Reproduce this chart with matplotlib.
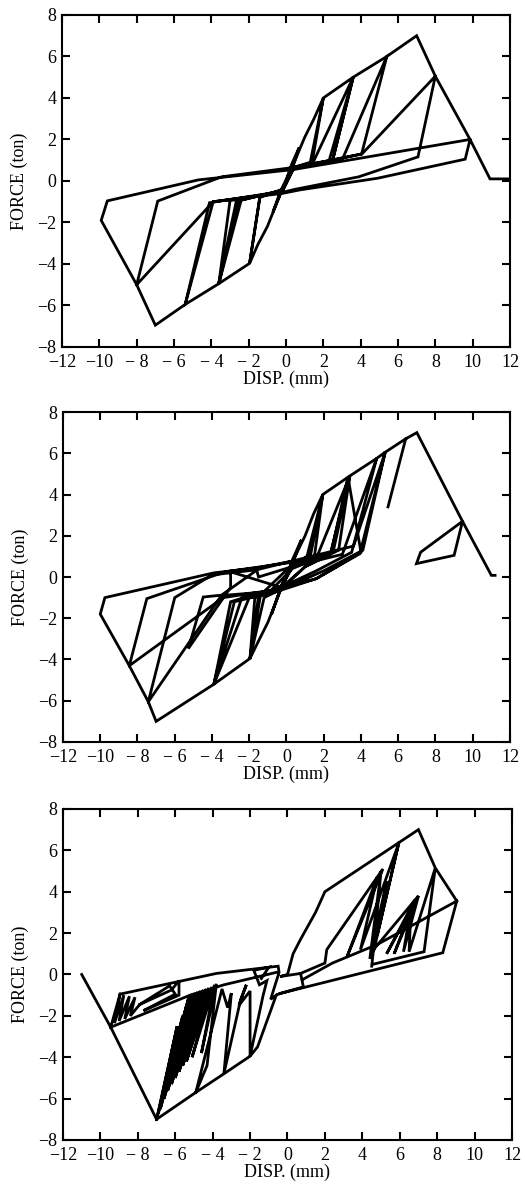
import numpy as np
import matplotlib
matplotlib.use("Agg")
import matplotlib.pyplot as plt

nan = np.nan

# hysteresis paths, (disp mm, force ton); (nan, nan) breaks a line
path1 = [
    (0, 0), (0.3, 0.8), (0.7, 1.6), (0.3, 0.5), (-0.2, -0.4), (-0.7, -1.5), (-0.3, -0.5), (0.3, 0.6),
    (1.0, 2.1), (1.5, 3.0), (2.0, 4.0),
    (1.3, 0.9), (0.4, 0.65), (-0.2, -0.4), (-1.0, -2.2), (-1.5, -3.05), (-1.95, -3.97),
    (-1.4, -0.8), (-0.2, -0.4), (0.4, 0.6), (1.4, 0.9), (2.0, 4.0), (3.6, 5.0),
    (2.5, 1.0), (0.4, 0.65), (-0.2, -0.45), (-1.4, -0.76), (-1.95, -3.97), (-3.6, -4.95),
    (-2.4, -0.92), (-0.2, -0.45), (0.4, 0.65), (1.44, 0.87), (3.6, 5.0),
    (2.3, 0.95), (0.4, 0.6), (-0.2, -0.5), (-2.65, -0.92), (-3.6, -4.95),
    (-2.55, -0.96), (-0.2, -0.45), (0.4, 0.65), (2.5, 1.0), (3.6, 5.0), (5.4, 6.0),
    (4.05, 1.3), (0.4, 0.6), (-0.2, -0.5), (-3.0, -0.95), (-3.6, -4.95), (-5.4, -5.95),
    (-4.1, -1.05), (-0.2, -0.5), (0.4, 0.6), (3.0, 1.0), (5.4, 6.0), (7.0, 7.0), (8.0, 5.05),
    (7.07, 1.16), (3.9, 0.2), (0.5, -0.4), (-0.2, -0.55), (-3.9, -1.0), (-5.4, -5.95),
    (-7.0, -6.95), (-8.0, -5.0),
    (-6.87, -0.97), (-3.45, 0.2), (0.4, 0.65), (4.07, 1.3), (8.0, 5.05), (9.86, 2.0),
    (9.6, 1.05), (4.9, 0.13), (0.75, -0.43), (-0.2, -0.6), (-3.9, -1.0), (-8.0, -5.0), (-9.9, -1.9),
    (-9.57, -0.96), (-4.7, 0.05), (0.4, 0.55), (4.0, 1.1), (9.86, 2.0), (10.93, 0.1), (12.0, 0.1),
]

path2 = [
    (0, 0), (0.3, 0.8), (0.8, 1.8), (0.3, 0.6), (-0.3, -0.5), (-0.8, -1.8), (-0.3, -0.5), (0.3, 0.7),
    (1.0, 2.0), (1.45, 3.05), (1.95, 4.0),
    (1.2, 0.9), (0.3, 0.6), (-0.3, -0.6), (-1.0, -2.2), (-1.5, -3.1), (-1.96, -3.95),
    (-1.5, -0.9), (-0.3, -0.5), (0.4, 0.6), (1.1, 1.0), (1.95, 4.0),
    (1.5, 1.0), (0.3, 0.6), (-0.3, -0.6), (-1.2, -1.0), (-1.96, -3.95),
    (-1.7, -1.0), (-0.4, -0.6), (0.3, 0.5), (1.3, 1.1), (1.95, 4.0), (3.4, 4.9),
    (2.35, 1.1), (1.0, 0.5), (-0.3, -0.6), (-1.4, -0.9), (-1.96, -3.95), (-3.9, -5.2),
    (-2.8, -1.2), (-1.0, -0.8), (0.3, 0.4), (1.6, 0.9), (3.4, 4.9),
    (2.8, 1.3), (1.0, 0.5), (-0.5, -0.7), (-2.4, -1.0), (-3.9, -5.2),
    (-3.0, -1.2), (-1.2, -0.7), (0.3, 0.6), (2.5, 1.2), (3.4, 4.9), (4.84, 5.75),
    (3.5, 1.2), (1.6, 0.3), (-0.3, -0.5), (-3.0, 0.25), (-3.0, -0.5), (-5.27, -3.47),
    (-4.47, -0.97), (-3.49, -0.88), (-1.6, 0.33), (-1.5, 0.0), (0.3, 0.5), (3.0, 1.1), (4.84, 5.75),
    (5.3, 6.05),
    (3.94, 1.13), (1.6, -0.08), (-0.5, -0.7), (-2.0, -1.0), (-3.9, -5.2), (-7.0, -7.0), (-7.42, -6.05),
    (-6.0, -1.0), (-4.0, 0.1), (-1.6, 0.35), (0.2, 0.75), (3.6, 1.5), (5.3, 6.05),
    (4.1, 1.3), (2.0, 0.3), (0.5, -0.3), (-0.8, -0.7), (-3.5, -0.9), (-7.42, -6.05), (-8.44, -4.3),
    (-7.5, -1.05), (-3.3, 0.25), (0.2, 0.7), (2.4, 1.2), (3.3, 4.85),
    (4.0, 1.2), (1.6, -0.08), (-0.5, -0.6), (-3.4, -1.0), (-8.44, -4.3), (-10.0, -1.8),
    (-9.75, -1.0), (-3.9, 0.2), (-1.5, 0.45), (0.2, 0.75),
    (nan, nan),
    (5.3, 6.05), (6.4, 6.7),
    (nan, nan),
    (5.45, 3.4), (6.4, 6.7), (7.0, 7.0), (9.45, 2.7), (7.2, 1.2), (6.98, 0.65), (9.0, 1.05),
    (9.45, 2.7), (11.0, 0.08), (11.2, 0.08),
]

path3 = [
    # outer path
    (-11.0, 0.0), (-9.45, -2.55), (-7.0, -7.0), (-4.9, -5.7), (-3.4, -4.8), (-2.0, -3.95),
    (-1.6, -3.5), (-0.6, -1.0), (-0.4, -0.92), (8.3, 1.05), (9.05, 3.55), (7.9, 5.15), (7.0, 7.0),
    (2.0, 4.0), (1.5, 3.0), (0.7, 1.7), (0.3, 1.0), (0.0, 0.0), (-0.4, -0.1), (0.7, 0.05),
    (0.85, -0.6), (-0.4, -0.92),
    (nan, nan),
    (-9.45, -2.55), (-8.95, -0.95), (-5.6, -0.3), (-3.8, 0.05), (-0.5, 0.4), (-0.45, 0.1),
    (-0.9, -1.2), (-0.6, -1.0),
    (nan, nan),
    (-9.45, -2.55), (-5.2, -1.0), (-3.4, -0.5), (-0.6, 0.1),
    (nan, nan),
    (-8.95, -0.95), (-9.25, -2.35), (-8.75, -1.0), (-9.0, -2.25), (-8.45, -1.05), (-8.7, -2.15),
    (-8.15, -1.1), (-8.4, -2.0), (-7.9, -1.45), (-6.2, -0.75), (-5.8, -0.3), (-5.8, -1.0),
    (-7.7, -1.75), (-6.0, -0.95), (-6.3, -0.55), (-7.9, -1.45),
    (nan, nan),
    (-7.0, -7.0), (-5.25, -1.0), (-6.8, -6.5), (-5.1, -0.95), (-6.6, -6.0), (-4.95, -0.9),
    (-6.4, -5.6), (-4.8, -0.85), (-6.2, -5.3), (-4.65, -0.8), (-6.0, -5.0), (-4.5, -0.75),
    (-5.8, -4.7), (-4.35, -0.7), (-5.6, -4.4), (-4.2, -0.65), (-5.4, -4.2), (-4.05, -0.6),
    (-5.1, -4.0), (-3.9, -0.5), (-4.6, -3.8), (-3.8, -0.45), (-4.3, -4.4), (-4.9, -5.7),
    (nan, nan),
    (-7.0, -7.0), (-5.9, -2.5), (-6.9, -6.7), (-5.6, -2.0), (-6.8, -6.3), (-5.4, -1.5),
    (nan, nan),
    (-4.9, -5.7), (-3.5, -0.7), (-3.2, -1.6), (-3.0, -0.9), (-3.4, -4.8), (-2.5, -1.2),
    (-2.2, -0.5), (-2.6, -1.5), (-2.0, -0.8), (-2.0, -3.95), (-1.3, -1.0), (-1.1, -0.3),
    (-1.5, -0.5), (-1.8, 0.2), (-1.0, 0.35), (-1.4, -0.2),
    (nan, nan),
    (0.7, 0.05), (2.0, 0.55), (2.1, 1.2), (5.1, 5.1), (3.2, 0.9), (4.8, 4.7), (3.9, 1.2),
    (5.95, 6.35), (4.6, 1.1), (5.0, 5.0), (4.4, 0.75), (5.3, 4.5), (4.8, 1.9), (5.95, 6.35),
    (nan, nan),
    (4.5, 0.4), (4.6, 1.2), (7.0, 3.8), (5.3, 1.0), (6.8, 3.6), (5.7, 1.0), (7.0, 3.8),
    (6.2, 1.1), (6.6, 3.2), (6.5, 1.1), (7.9, 5.15), (7.3, 1.1), (4.6, 0.5),
    (nan, nan),
    (9.05, 3.55), (4.8, 1.45), (2.4, 0.55), (0.8, -0.25),
]

xticks = list(range(-12, 13, 2))
xlabels = ['\u221212', '\u221210', '\u2212 8', '\u2212 6', '\u2212 4', '\u2212 2',
           '0', '2', '4', '6', '8', '10', '12']
yticks = list(range(-8, 9, 2))
ylabels = ['\u22128', '\u22126', '\u22124', '\u22122', '0', '2', '4', '6', '8']

plt.rcParams['font.family'] = ['Liberation Serif', 'DejaVu Serif']

fig = plt.figure(figsize=(5.25, 11.87), dpi=100)
boxes = [
    [0.1181, 0.7077, 0.8533, 0.2797],
    [0.1200, 0.3749, 0.8514, 0.2780],
    [0.1200, 0.0396, 0.8552, 0.2789],
]

for box, path in zip(boxes, [path1, path2, path3]):
    ax = fig.add_axes(box)
    xs = [p[0] for p in path]
    ys = [p[1] for p in path]
    ax.plot(xs, ys, color='black', lw=2.0, solid_joinstyle='miter')
    ax.set_xlim(-12, 12)
    ax.set_ylim(-8, 8)
    ax.set_xticks(xticks)
    ax.set_xticklabels(xlabels)
    ax.set_yticks(yticks)
    ax.set_yticklabels(ylabels)
    ax.tick_params(direction='in', top=True, right=True, length=6, width=1.5,
                   labelsize=13)
    ax.tick_params(axis='x', pad=5)
    ax.tick_params(axis='y', pad=4)
    for s in ax.spines.values():
        s.set_linewidth(1.5)
    ax.set_xlabel('DISP. (mm)', fontsize=13, labelpad=0)
    ax.set_ylabel('FORCE (ton)', fontsize=13, labelpad=7)

fig.savefig('out.png', dpi=100)
